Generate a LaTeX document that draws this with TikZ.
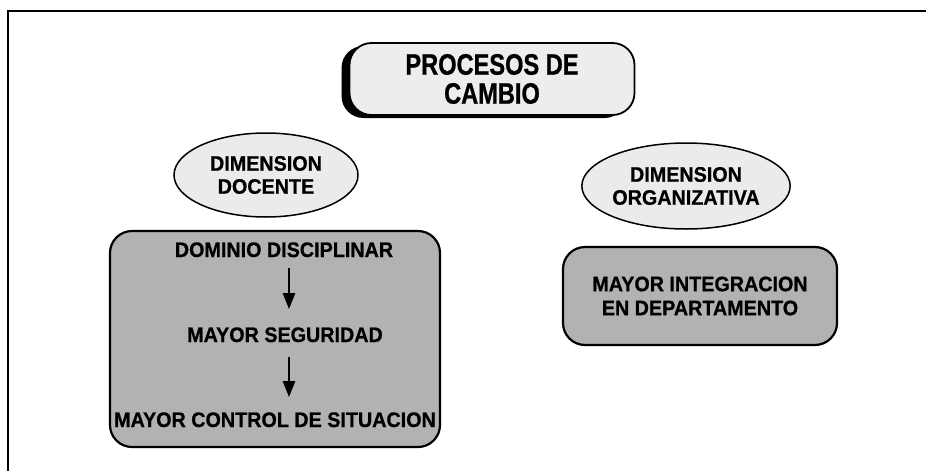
\documentclass[tikz,border=0pt]{standalone}
\usepackage{fontspec}
\setmainfont{Liberation Sans}
\newfontfamily\titlefont{Liberation Sans Bold}[FakeStretch=0.8,FakeBold=0.8]
\newfontfamily\heavyfont{Liberation Sans Bold}[FakeStretch=0.94,FakeBold=0.8]
\usetikzlibrary{arrows.meta,shapes.geometric,shadows}
\begin{document}
\begin{tikzpicture}[x=1pt,y=-1pt,
  titlebox/.style={draw, line width=1.8pt, fill=black!7, rounded corners=22pt,
    minimum width=285pt, minimum height=72pt, inner sep=0pt, align=center,
    font=\titlefont\fontsize{29.5}{29}\selectfont,
    drop shadow={shadow xshift=-8pt, shadow yshift=-3pt, fill=black, opacity=1}},
  dimell/.style={draw, line width=1.5pt, ellipse, fill=black!8, inner sep=0pt,
    align=center, font=\heavyfont\fontsize{21}{23}\selectfont},
  graybox/.style={draw, line width=2.2pt, fill=black!30, rounded corners=22pt, inner sep=0pt},
  boxtext/.style={inner sep=0pt, align=center, font=\heavyfont\fontsize{21}{24}\selectfont},
  arr/.style={line width=2.5pt, -{Triangle[length=16pt,width=12pt]}}
]
\useasboundingbox (0,0) rectangle (926,471);
\draw[line width=2.3pt] (8,471) -- (8,11) -- (926,11);

\node[titlebox] (title) at (492,79) {PROCESOS DE\\CAMBIO};

\node[dimell, minimum width=184pt, minimum height=84pt] (doc) at (266,175) {DIMENSION\\DOCENTE};
\node[dimell, minimum width=186pt, minimum height=86pt] (org) at (686,186) {DIMENSION\\ORGANIZATIVA};

\node[graybox, minimum width=330pt, minimum height=216pt] (lbox) at (275,339) {};
\node[boxtext, anchor=base] (d1) at (284,257) {DOMINIO DISCIPLINAR};
\node[boxtext, anchor=base] (d2) at (285,342) {MAYOR SEGURIDAD};
\node[boxtext, anchor=base] (d3) at (275,427) {MAYOR CONTROL DE SITUACION};
\draw[arr, shorten <=11pt, shorten >=18pt] ([xshift=5pt]d1.south) -- ([xshift=4pt]d2.north);
\draw[arr, shorten <=15pt, shorten >=15pt] ([xshift=4pt]d2.south) -- ([xshift=14pt]d3.north);

\node[graybox, boxtext, minimum width=274pt, minimum height=98pt] (rbox) at (700,296) {MAYOR INTEGRACION\\EN DEPARTAMENTO};
\end{tikzpicture}
\end{document}
